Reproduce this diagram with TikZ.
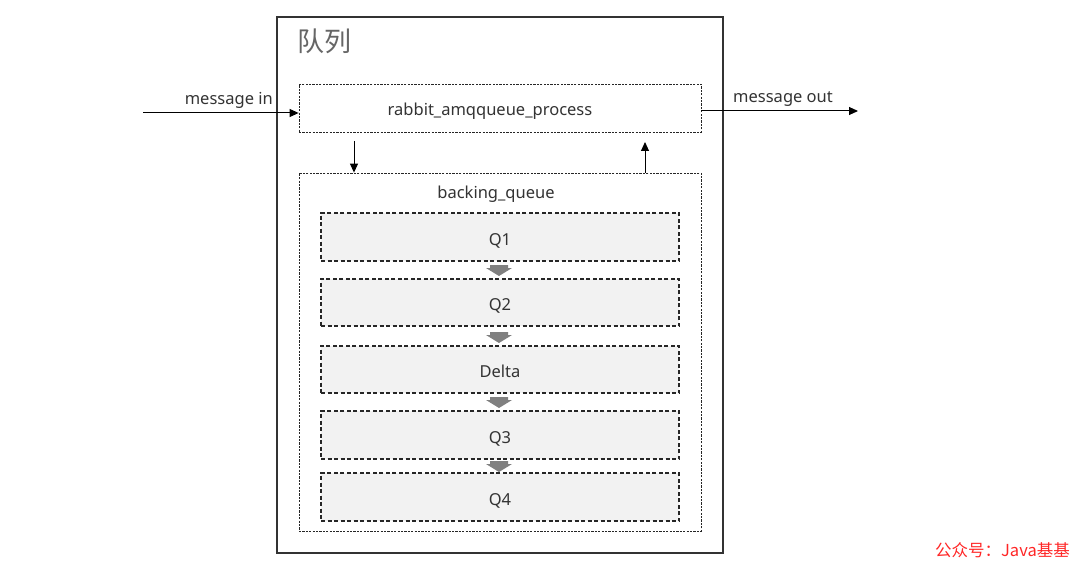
\documentclass[tikz,border=0pt]{standalone}
\usepackage{fontspec}
\setmainfont{Noto Sans}
\newfontfamily\cjk{Noto Sans CJK SC}
\usetikzlibrary{arrows.meta}
\begin{document}
\begin{tikzpicture}[x=1pt,y=-1pt,
  lbl/.style={font=\fontsize{16.5}{18}\selectfont, text=black!80, inner sep=0pt},
  outerbox/.style={draw=black!80, line width=1.2pt},
  dbox/.style={draw=black!85, line width=0.8pt, dash pattern=on 2.2pt off 1.2pt},
  qbox/.style={draw=black!85, fill=black!5, line width=1.1pt, dash pattern=on 4pt off 2.5pt, inner sep=0pt, minimum width=358pt, text height=16pt, text depth=0pt, font=\fontsize{16.5}{18}\selectfont, text=black!80},
  conn/.style={draw=black, line width=1pt, -{Triangle[length=9pt,width=8pt]}},
  blk/.style={fill=black!50, draw=none}
]
\useasboundingbox[fill=white] (0,0) rectangle (1080,567);
% outer box
\draw[outerbox] (277,17) rectangle (723,553);
\node[font=\cjk\fontsize{27}{29}\selectfont, text=black!60, anchor=west, inner sep=0pt] (title) at (297,41) {队列};
% rabbit process
\node[dbox, minimum width=402pt, minimum height=48pt, inner sep=0pt] (proc) at (500,108) {};
\node[lbl] (proclbl) at (490,111) {rabbit\_amqqueue\_process};
% backing queue
\node[dbox, minimum width=402pt, minimum height=358pt, inner sep=0pt] (bq) at (500,352) {};
\node[lbl] (bqlbl) at (496,194) {backing\_queue};
% Q boxes
\node[qbox, minimum height=48pt] (q1) at (500,237) {Q1};
\node[qbox, minimum height=47pt] (q2) at (500,302.5) {Q2};
\node[qbox, minimum height=47pt] (dl) at (500,369.5) {Delta};
\node[qbox, minimum height=48pt] (q3) at (500,435) {Q3};
\node[qbox, minimum height=48pt] (q4) at (500,497) {Q4};
% block arrows between Q boxes
\foreach \y in {270,337,402,466}{
  \fill[blk] (490,\y-5) -- (508,\y-5) -- (508,\y-2) -- (512,\y-2) -- (499,\y+6) -- (486,\y-2) -- (490,\y-2) -- cycle;
}
% message in / out
\coordinate (inS) at (143,113);
\draw[conn] (inS) -- (proc.west |- inS);
\node[lbl, anchor=south east] (inlbl) at (273,108.5) {message in};
\coordinate (outE) at (858,111);
\draw[conn] (proc.east |- outE) -- (outE);
\node[lbl, anchor=south west] (outlbl) at (733,107) {message out};
% vertical arrows
\coordinate (dA) at (354,141);
\coordinate (uA) at (645,142);
\draw[conn] (dA) -- (dA |- bq.north);
\draw[conn] (uA |- bq.north) -- (uA);
% watermark
\node[font=\cjk\fontsize{16.5}{18}\selectfont, text=red!85, anchor=east, inner sep=0pt] (wm) at (1070,550) {公众号：Java基基};
\end{tikzpicture}
\end{document}
